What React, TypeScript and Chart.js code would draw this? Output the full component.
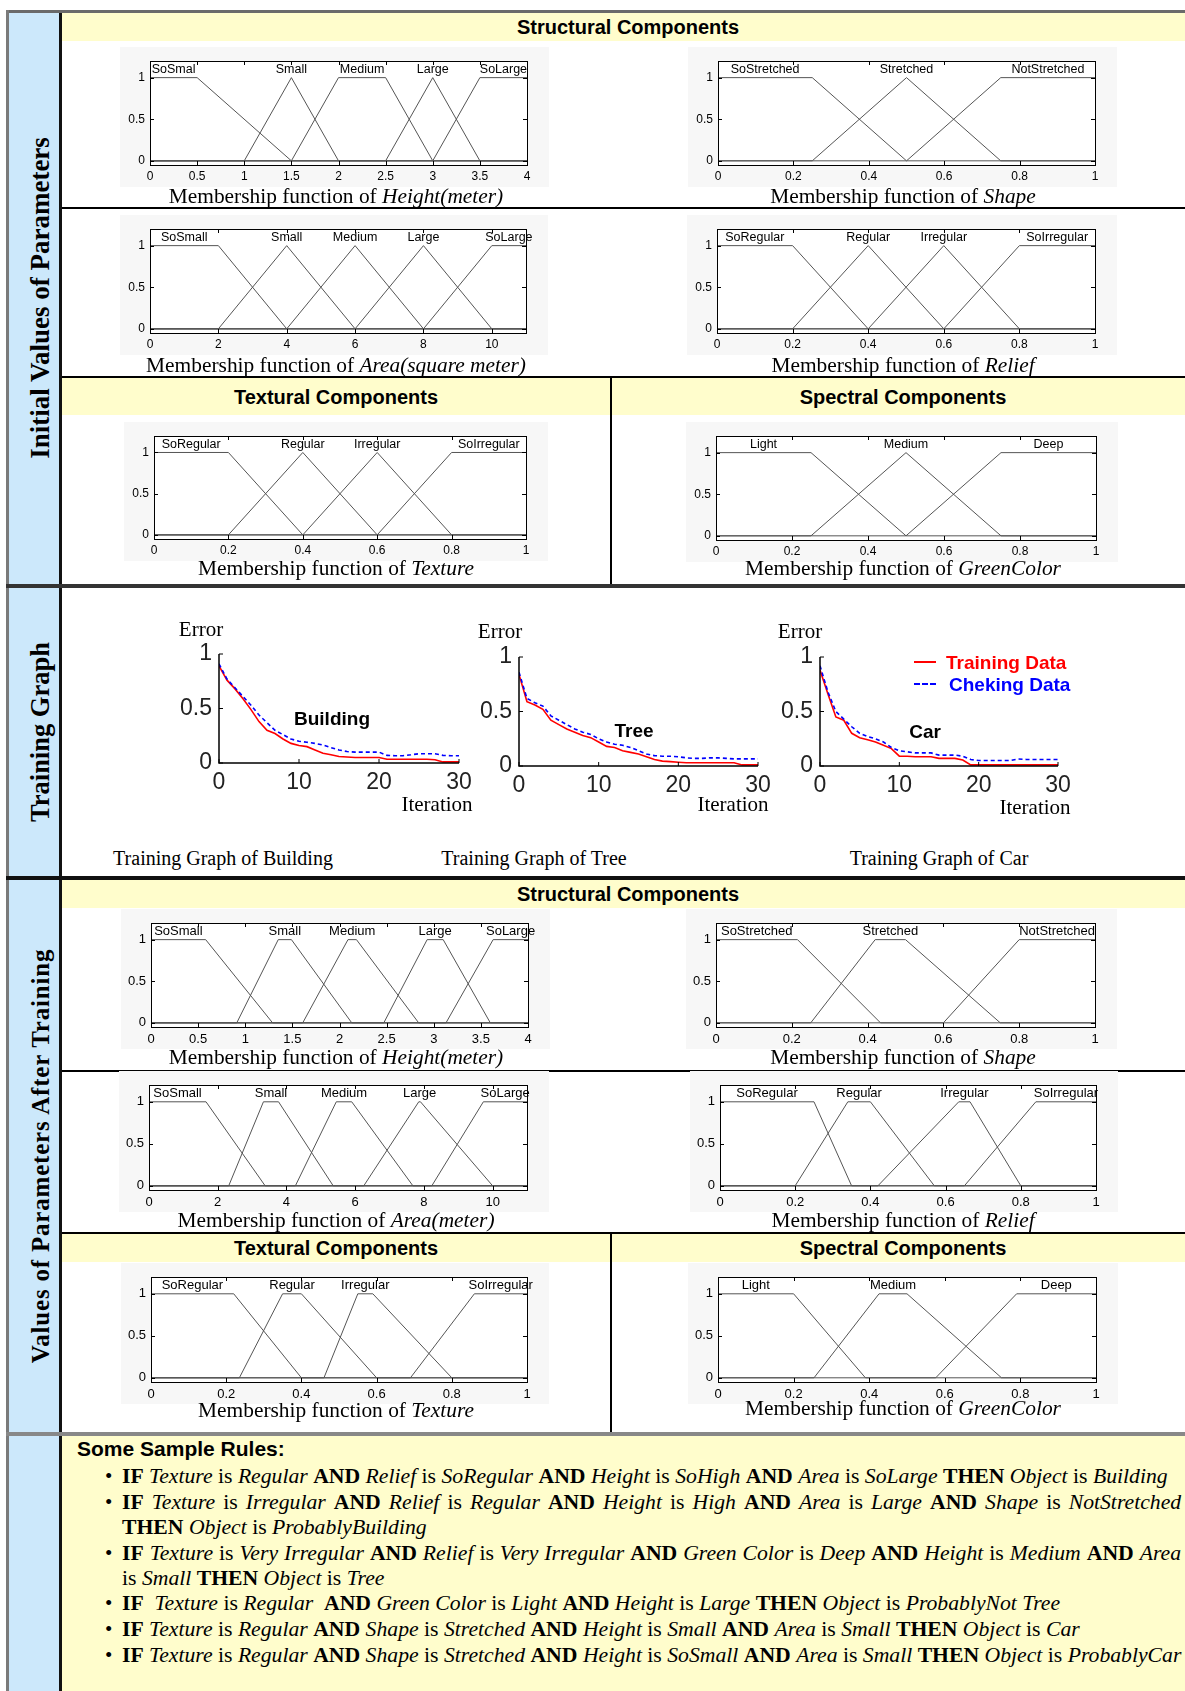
import React, { useEffect, useRef } from 'react';
import { Chart, registerables } from 'chart.js';
Chart.register(...registerables);

// ================= DATA =================
const mfYTicks = [0, 0.5, 1];
const heightTicks = [0, 0.5, 1, 1.5, 2, 2.5, 3, 3.5, 4];
const areaTicks = [0, 2, 4, 6, 8, 10];
const unitTicks = [0, 0.2, 0.4, 0.6, 0.8, 1];

// membership functions [a, b, c, d] (trapezoid corners)
const heightLabelsInit = ['SoSmal', 'Small', 'Medium', 'Large', 'SoLarge'];
const heightMfInit = [[0, 0, 0.5, 1.5], [1, 1.5, 1.5, 2], [1.5, 2, 2.5, 3], [2.5, 3, 3, 3.5], [3, 3.5, 4, 4]];
const shapeLabels = ['SoStretched', 'Stretched', 'NotStretched'];
const shapeMfInit = [[0, 0, 0.25, 0.5], [0.25, 0.5, 0.5, 0.75], [0.5, 0.75, 1, 1]];
const areaLabels = ['SoSmall', 'Small', 'Medium', 'Large', 'SoLarge'];
const areaMfInit = [[0, 0, 2, 4], [2, 4, 4, 6], [4, 6, 6, 8], [6, 8, 8, 10], [8, 10, 11, 11]];
const regularLabels = ['SoRegular', 'Regular', 'Irregular', 'SoIrregular'];
const reliefMfInit = [[0, 0, 0.2, 0.4], [0.2, 0.4, 0.4, 0.6], [0.4, 0.6, 0.6, 0.8], [0.6, 0.8, 1, 1]];
const textureMfInit = [[0, 0, 0.2, 0.4], [0.2, 0.4, 0.4, 0.6], [0.4, 0.6, 0.6, 0.8], [0.6, 0.8, 1, 1]];
const greenLabels = ['Light', 'Medium', 'Deep'];
const greenMfInit = [[0, 0, 0.25, 0.5], [0.25, 0.5, 0.5, 0.75], [0.5, 0.75, 1, 1]];

const heightLabelsTrained = ['SoSmall', 'Small', 'Medium', 'Large', 'SoLarge'];
const heightMfTrained = [[0, 0, 0.58, 1.29], [0.91, 1.35, 1.49, 2.13], [1.61, 2.09, 2.18, 2.84], [2.47, 2.93, 3.1, 3.6], [3.13, 3.63, 4, 4]];
const shapeMfTrained = [[0, 0, 0.215, 0.434], [0.25, 0.42, 0.5, 0.75], [0.6, 0.8, 1, 1]];
const areaMfTrained = [[0, 0, 1.66, 3.38], [2.32, 3.33, 3.77, 5.36], [4.26, 5.45, 5.9, 7.68], [6.25, 7.85, 7.9, 10], [8.23, 9.73, 11, 11]];
const reliefMfTrained = [[0, 0, 0.25, 0.35], [0.2, 0.34, 0.4, 0.57], [0.42, 0.635, 0.665, 0.8], [0.65, 0.84, 1, 1]];
const textureMfTrained = [[0, 0, 0.22, 0.4], [0.235, 0.35, 0.4, 0.6], [0.46, 0.55, 0.59, 0.8], [0.69, 0.86, 1, 1]];
const greenMfTrained = [[0, 0, 0.2, 0.39], [0.254, 0.426, 0.5, 0.75], [0.576, 0.79, 1, 1]];

// training curves
const iterations = [0, 1, 2, 3, 4, 5, 6, 7, 8, 9, 10, 11, 12, 13, 14, 15, 16, 17, 18, 19, 20, 21, 22, 23, 24, 25, 26, 27, 28, 29, 30];
const iterTicks = [0, 10, 20, 30];
const errorTicks = [0, 0.5, 1];
const buildingTrain = [0.89, 0.76, 0.68, 0.59, 0.49, 0.38, 0.30, 0.27, 0.22, 0.18, 0.16, 0.15, 0.12, 0.09, 0.075, 0.06, 0.055, 0.05, 0.05, 0.05, 0.05, 0.035, 0.035, 0.035, 0.035, 0.035, 0.035, 0.03, 0.01, 0.01, 0.01];
const buildingCheck = [0.91, 0.77, 0.69, 0.61, 0.53, 0.44, 0.37, 0.30, 0.26, 0.22, 0.20, 0.19, 0.18, 0.165, 0.14, 0.12, 0.105, 0.10, 0.10, 0.10, 0.10, 0.07, 0.067, 0.067, 0.075, 0.085, 0.085, 0.085, 0.07, 0.067, 0.067];
const treeTrain = [0.84, 0.59, 0.56, 0.52, 0.42, 0.38, 0.34, 0.31, 0.28, 0.26, 0.22, 0.18, 0.17, 0.14, 0.125, 0.11, 0.085, 0.06, 0.045, 0.04, 0.035, 0.03, 0.03, 0.03, 0.03, 0.03, 0.03, 0.03, 0.01, 0.01, 0.01];
const treeCheck = [0.86, 0.62, 0.58, 0.55, 0.46, 0.42, 0.38, 0.34, 0.31, 0.29, 0.25, 0.22, 0.20, 0.19, 0.17, 0.14, 0.11, 0.095, 0.09, 0.09, 0.085, 0.075, 0.07, 0.07, 0.075, 0.075, 0.07, 0.065, 0.065, 0.065, 0.065];
const carTrain = [0.88, 0.66, 0.45, 0.42, 0.30, 0.26, 0.24, 0.22, 0.19, 0.16, 0.09, 0.09, 0.085, 0.085, 0.085, 0.07, 0.07, 0.07, 0.055, 0.01, 0.01, 0.01, 0.01, 0.01, 0.01, 0.01, 0.01, 0.01, 0.01, 0.01, 0.01];
const carCheck = [0.92, 0.68, 0.50, 0.43, 0.36, 0.30, 0.27, 0.25, 0.22, 0.17, 0.14, 0.13, 0.12, 0.12, 0.12, 0.10, 0.10, 0.10, 0.09, 0.06, 0.05, 0.05, 0.05, 0.05, 0.05, 0.065, 0.06, 0.06, 0.06, 0.06, 0.06];

// ================= STYLE =================
const SERIF = '"Liberation Serif", "Times New Roman", serif';
const SANS = '"Liberation Sans", Arial, sans-serif';
const YELLOW = '#fffdcc';
const BLUE = '#cce8fb';

function mfPoints(prm: number[], xMin: number, xMax: number) {
  const [a, b, c, d] = prm;
  const pts: { x: number; y: number }[] = [];
  if (a > xMin) pts.push({ x: xMin, y: 0 });
  if (a < b) pts.push({ x: a, y: 0 });
  pts.push({ x: b, y: 1 });
  if (c > b) pts.push({ x: c, y: 1 });
  if (d > c) pts.push({ x: d, y: 0 });
  if (d < xMax) pts.push({ x: xMax, y: 0 });
  return pts;
}

type MfProps = {
  xMin: number; xMax: number; xTicks: number[]; params: number[][]; labels: string[];
  left: number; top: number; width: number; height: number; tickFont: number; labelFont: number;
};

function MfChart(p: MfProps) {
  const ref = useRef<HTMLCanvasElement>(null);
  const ML = 30, MR = 22, MT = 14, MB = 22;
  const cw = p.width + ML + MR, ch = p.height + MT + MB;
  useEffect(() => {
    const datasets = p.params.map((prm) => ({
      data: mfPoints(prm, p.xMin, p.xMax), showLine: true, borderColor: '#555', borderWidth: 1,
      pointRadius: 0, fill: false, tension: 0,
    }));
    const decor = {
      id: 'mfDecor',
      beforeDraw(chart: any) {
        const { ctx, chartArea: a } = chart;
        ctx.save(); ctx.fillStyle = '#fff';
        ctx.fillRect(a.left, a.top, a.right - a.left, a.bottom - a.top); ctx.restore();
      },
      afterDatasetsDraw(chart: any) {
        const { ctx, chartArea: a, scales } = chart;
        const xs = scales.x, ys = scales.y;
        ctx.save();
        ctx.strokeStyle = '#000'; ctx.lineWidth = 1;
        ctx.strokeRect(Math.round(a.left) + 0.5, Math.round(a.top) + 0.5, Math.round(a.right - a.left), Math.round(a.bottom - a.top));
        ctx.beginPath();
        p.xTicks.forEach((v) => {
          const x = Math.round(xs.getPixelForValue(v)) + 0.5;
          ctx.moveTo(x, a.bottom); ctx.lineTo(x, a.bottom - 4);
          ctx.moveTo(x, a.top); ctx.lineTo(x, a.top + 4);
        });
        mfYTicks.forEach((v) => {
          const y = Math.round(ys.getPixelForValue(v)) + 0.5;
          ctx.moveTo(a.left, y); ctx.lineTo(a.left + 4, y);
          ctx.moveTo(a.right, y); ctx.lineTo(a.right - 4, y);
        });
        ctx.stroke();
        ctx.fillStyle = '#000';
        // tick labels
        ctx.font = `${p.tickFont}px ${SANS}`;
        ctx.textAlign = 'center'; ctx.textBaseline = 'middle';
        p.xTicks.forEach((v) => ctx.fillText(String(v), xs.getPixelForValue(v), a.bottom + 12));
        ctx.textAlign = 'right';
        mfYTicks.forEach((v) => ctx.fillText(String(v), a.left - 5, ys.getPixelForValue(v)));
        // MF names
        ctx.font = `${p.labelFont}px ${SANS}`;
        ctx.textAlign = 'center';
        p.params.forEach((prm, i) => {
          ctx.fillText(p.labels[i], xs.getPixelForValue((prm[1] + prm[2]) / 2), ys.getPixelForValue(1.1));
        });
        ctx.restore();
      },
    };
    const chart = new Chart(ref.current as HTMLCanvasElement, {
      type: 'scatter',
      data: { datasets } as any,
      options: {
        animation: false, responsive: false, maintainAspectRatio: false, devicePixelRatio: 1,
        layout: { padding: { left: 0, right: MR, top: MT, bottom: 0 } },
        plugins: { legend: { display: false }, tooltip: { enabled: false } },
        scales: {
          x: {
            type: 'linear', min: p.xMin, max: p.xMax,
            afterBuildTicks: (s: any) => { s.ticks = p.xTicks.map((v) => ({ value: v })); },
            afterFit: (s: any) => { s.height = MB; },
            ticks: { display: false },
            grid: { display: false }, border: { display: false },
          },
          y: {
            type: 'linear', min: -0.05, max: 1.2,
            afterBuildTicks: (s: any) => { s.ticks = mfYTicks.map((v) => ({ value: v })); },
            afterFit: (s: any) => { s.width = ML; },
            ticks: { display: false },
            grid: { display: false }, border: { display: false },
          },
        },
      } as any,
      plugins: [decor],
    });
    return () => chart.destroy();
  }, []);
  return (
    <canvas ref={ref} width={cw} height={ch}
      style={{ position: 'absolute', left: p.left - ML, top: p.top - MT, width: cw, height: ch, background: '#f7f7f7' }} />
  );
}

type TrProps = { left: number; top: number; width: number; height: number; train: number[]; check: number[] };

function TrainChart(p: TrProps) {
  const ref = useRef<HTMLCanvasElement>(null);
  const ML = 60, MR = 24, MT = 16, MB = 40;
  const cw = p.width + ML + MR, ch = p.height + MT + MB;
  useEffect(() => {
    const decor = {
      id: 'trDecor',
      afterDatasetsDraw(chart: any) {
        const { ctx, chartArea: a, scales } = chart;
        ctx.save();
        ctx.strokeStyle = '#000'; ctx.lineWidth = 1.5;
        ctx.beginPath();
        ctx.moveTo(a.left, a.top); ctx.lineTo(a.left, a.bottom); ctx.lineTo(a.right, a.bottom);
        ctx.stroke();
        ctx.lineWidth = 1; ctx.beginPath();
        iterTicks.forEach((v) => { const x = scales.x.getPixelForValue(v); ctx.moveTo(x, a.bottom); ctx.lineTo(x, a.bottom - 4); });
        errorTicks.forEach((v) => { const y = scales.y.getPixelForValue(v); ctx.moveTo(a.left, y); ctx.lineTo(a.left + 4, y); });
        ctx.stroke();
        ctx.fillStyle = '#222';
        ctx.font = `23px ${SANS}`;
        ctx.textAlign = 'center'; ctx.textBaseline = 'middle';
        iterTicks.forEach((v) => ctx.fillText(String(v), scales.x.getPixelForValue(v), a.bottom + 20));
        ctx.textAlign = 'right';
        errorTicks.forEach((v) => ctx.fillText(String(v), a.left - 7, scales.y.getPixelForValue(v)));
        ctx.restore();
      },
    };
    const chart = new Chart(ref.current as HTMLCanvasElement, {
      type: 'scatter',
      data: {
        datasets: [
          { data: iterations.map((it, i) => ({ x: it, y: p.check[i] })), showLine: true, borderColor: '#0000ff', borderWidth: 1.6, borderDash: [4, 3], pointRadius: 0, tension: 0 },
          { data: iterations.map((it, i) => ({ x: it, y: p.train[i] })), showLine: true, borderColor: '#ff0000', borderWidth: 1.6, pointRadius: 0, tension: 0 },
        ],
      } as any,
      options: {
        animation: false, responsive: false, maintainAspectRatio: false, devicePixelRatio: 1,
        layout: { padding: { left: 0, right: MR, top: MT, bottom: 0 } },
        plugins: { legend: { display: false }, tooltip: { enabled: false } },
        scales: {
          x: {
            type: 'linear', min: 0, max: 30,
            afterBuildTicks: (s: any) => { s.ticks = iterTicks.map((v) => ({ value: v })); },
            afterFit: (s: any) => { s.height = MB; },
            ticks: { display: false },
            grid: { display: false }, border: { display: false },
          },
          y: {
            type: 'linear', min: 0, max: 1,
            afterBuildTicks: (s: any) => { s.ticks = errorTicks.map((v) => ({ value: v })); },
            afterFit: (s: any) => { s.width = ML; },
            ticks: { display: false },
            grid: { display: false }, border: { display: false },
          },
        },
      } as any,
      plugins: [decor],
    });
    return () => chart.destroy();
  }, []);
  return (
    <canvas ref={ref} width={cw} height={ch}
      style={{ position: 'absolute', left: p.left - ML, top: p.top - MT, width: cw, height: ch }} />
  );
}

// ================= LAYOUT HELPERS =================
const Rect = ({ l, t, w, h, bg }: any) => (
  <div style={{ position: 'absolute', left: l, top: t, width: w, height: h, background: bg }} />
);

const T = ({ x, y, children, style }: any) => (
  <div style={{ position: 'absolute', left: x, top: y, transform: 'translate(-50%,-50%)', whiteSpace: 'nowrap', lineHeight: 1, ...style }}>
    {children}
  </div>
);

const Title = ({ x, y, name }: any) => (
  <T x={x} y={y} style={{ fontFamily: SERIF, fontSize: 21.4 }}>
    Membership function of <i>{name}</i>
  </T>
);

const Header = ({ l, t, w, h, text, cx }: any) => (
  <>
    <Rect l={l} t={t} w={w} h={h} bg={YELLOW} />
    <T x={cx} y={t + h / 2} style={{ fontFamily: SANS, fontWeight: 'bold', fontSize: 20 }}>{text}</T>
  </>
);

const Side = ({ y, text, size, ls }: any) => (
  <div style={{ position: 'absolute', left: 40, top: y, transform: 'translate(-50%,-50%) rotate(-90deg)', whiteSpace: 'nowrap', lineHeight: 1, fontFamily: SERIF, fontWeight: 'bold', fontSize: size, letterSpacing: ls || 0 }}>
    {text}
  </div>
);

const RuleLine = ({ y, bullet, justify, children }: any) => (
  <>
    {bullet && <div style={{ position: 'absolute', left: 105, top: y - 13, lineHeight: '26px', fontSize: 21, fontFamily: SERIF }}>•</div>}
    <div style={{
      position: 'absolute', left: 122, top: y - 13, lineHeight: '26px', fontSize: 21.7, fontFamily: SERIF,
      width: justify ? 1059 : undefined, whiteSpace: justify ? 'normal' : 'nowrap',
      textAlign: justify ? 'justify' : 'left', textAlignLast: justify ? 'justify' : 'auto', color: '#000',
    } as any}>{children}</div>
  </>
);

export default function App() {
  return (
    <div style={{ position: 'absolute', left: 0, top: 0, width: 1185, height: 1691, overflow: 'hidden', background: '#fff', fontFamily: SERIF, color: '#000' }}>
      {/* frame */}
      <Rect l={6} t={10} w={1179} h={3} bg="#6a6a6a" />
      <Rect l={6} t={10} w={3} h={1681} bg="#7a7a7a" />
      <Rect l={9} t={13} w={50} h={1678} bg={BLUE} />
      <Rect l={59} t={13} w={3} h={1678} bg="#111" />

      {/* ===== Section 1: initial values ===== */}
      <Header l={62} t={13} w={1123} h={28} text="Structural Components" cx={628} />
      <Rect l={62} t={207} w={1123} h={2} bg="#000" />
      <Rect l={62} t={376} w={1123} h={2} bg="#000" />
      <Header l={62} t={378} w={548} h={37} text="Textural Components" cx={336} />
      <Header l={612} t={378} w={573} h={37} text="Spectral Components" cx={903} />
      <Rect l={610} t={378} w={2} h={207} bg="#000" />

      <MfChart xMin={0} xMax={4} xTicks={heightTicks} params={heightMfInit} labels={heightLabelsInit} left={150} top={61} width={377} height={104} tickFont={12} labelFont={12.5} />
      <MfChart xMin={0} xMax={1} xTicks={unitTicks} params={shapeMfInit} labels={shapeLabels} left={718} top={61} width={377} height={104} tickFont={12} labelFont={12.5} />
      <MfChart xMin={0} xMax={11} xTicks={areaTicks} params={areaMfInit} labels={areaLabels} left={150} top={229} width={376} height={104} tickFont={12} labelFont={12.5} />
      <MfChart xMin={0} xMax={1} xTicks={unitTicks} params={reliefMfInit} labels={regularLabels} left={717} top={229} width={378} height={104} tickFont={12} labelFont={12.5} />
      <MfChart xMin={0} xMax={1} xTicks={unitTicks} params={textureMfInit} labels={regularLabels} left={154} top={436} width={372} height={103} tickFont={12} labelFont={12.5} />
      <MfChart xMin={0} xMax={1} xTicks={unitTicks} params={greenMfInit} labels={greenLabels} left={716} top={436} width={380} height={104} tickFont={12} labelFont={12.5} />

      <Title x={336} y={197} name="Height(meter)" />
      <Title x={903} y={197} name="Shape" />
      <Title x={336} y={366} name="Area(square meter)" />
      <Title x={903} y={366} name="Relief" />
      <Title x={336} y={569} name="Texture" />
      <Title x={903} y={569} name="GreenColor" />

      <Side y={298} text="Initial Values of Parameters" size={27} />

      <Rect l={6} t={584} w={1179} h={4} bg="#333" />

      {/* ===== Section 2: training graph ===== */}
      <Side y={732} text="Training Graph" size={26.5} />
      <TrainChart left={219} top={654} width={240} height={109} train={buildingTrain} check={buildingCheck} />
      <TrainChart left={519} top={657} width={239} height={109} train={treeTrain} check={treeCheck} />
      <TrainChart left={820} top={657} width={238} height={109} train={carTrain} check={carCheck} />

      <T x={201} y={629} style={{ fontFamily: SERIF, fontSize: 21 }}>Error</T>
      <T x={500} y={631} style={{ fontFamily: SERIF, fontSize: 21 }}>Error</T>
      <T x={800} y={631} style={{ fontFamily: SERIF, fontSize: 21 }}>Error</T>
      <T x={437} y={804} style={{ fontFamily: SERIF, fontSize: 21 }}>Iteration</T>
      <T x={733} y={804} style={{ fontFamily: SERIF, fontSize: 21 }}>Iteration</T>
      <T x={1035} y={807} style={{ fontFamily: SERIF, fontSize: 21 }}>Iteration</T>
      <T x={332} y={718} style={{ fontFamily: SANS, fontSize: 19, fontWeight: 'bold' }}>Building</T>
      <T x={634} y={730} style={{ fontFamily: SANS, fontSize: 19, fontWeight: 'bold' }}>Tree</T>
      <T x={925} y={731} style={{ fontFamily: SANS, fontSize: 19, fontWeight: 'bold' }}>Car</T>

      {/* legend */}
      <div style={{ position: 'absolute', left: 914, top: 661, width: 22, borderTop: '2px solid #ff0000' }} />
      <div style={{ position: 'absolute', left: 946, top: 662, transform: 'translateY(-50%)', lineHeight: 1, fontFamily: SANS, fontWeight: 'bold', fontSize: 19, color: '#ff0000', whiteSpace: 'nowrap' }}>Training Data</div>
      <div style={{ position: 'absolute', left: 914, top: 683, width: 22, borderTop: '2px dashed #0000ff' }} />
      <div style={{ position: 'absolute', left: 949, top: 684, transform: 'translateY(-50%)', lineHeight: 1, fontFamily: SANS, fontWeight: 'bold', fontSize: 19, color: '#0000ff', whiteSpace: 'nowrap' }}>Cheking Data</div>

      <T x={223} y={858} style={{ fontFamily: SERIF, fontSize: 20 }}>Training Graph of Building</T>
      <T x={534} y={858} style={{ fontFamily: SERIF, fontSize: 20 }}>Training Graph of Tree</T>
      <T x={939} y={858} style={{ fontFamily: SERIF, fontSize: 20 }}>Training Graph of Car</T>

      <Rect l={6} t={876} w={1179} h={4} bg="#111" />

      {/* ===== Section 3: after training ===== */}
      <Header l={62} t={880} w={1123} h={28} text="Structural Components" cx={628} />
      <Rect l={62} t={1070} w={1123} h={2} bg="#000" />
      <Rect l={62} t={1232} w={1123} h={2} bg="#000" />
      <Header l={62} t={1234} w={548} h={28} text="Textural Components" cx={336} />
      <Header l={612} t={1234} w={573} h={28} text="Spectral Components" cx={903} />
      <Rect l={610} t={1234} w={2} h={198} bg="#000" />

      <MfChart xMin={0} xMax={4} xTicks={heightTicks} params={heightMfTrained} labels={heightLabelsTrained} left={151} top={923} width={377} height={104} tickFont={13} labelFont={13} />
      <MfChart xMin={0} xMax={1} xTicks={unitTicks} params={shapeMfTrained} labels={shapeLabels} left={716} top={923} width={379} height={104} tickFont={13} labelFont={13} />
      <MfChart xMin={0} xMax={11} xTicks={areaTicks} params={areaMfTrained} labels={areaLabels} left={149} top={1085} width={378} height={105} tickFont={13} labelFont={13} />
      <MfChart xMin={0} xMax={1} xTicks={unitTicks} params={reliefMfTrained} labels={regularLabels} left={720} top={1085} width={376} height={105} tickFont={13} labelFont={13} />
      <MfChart xMin={0} xMax={1} xTicks={unitTicks} params={textureMfTrained} labels={regularLabels} left={151} top={1277} width={376} height={105} tickFont={13} labelFont={13} />
      <MfChart xMin={0} xMax={1} xTicks={unitTicks} params={greenMfTrained} labels={greenLabels} left={718} top={1277} width={378} height={105} tickFont={13} labelFont={13} />

      <Title x={336} y={1058} name="Height(meter)" />
      <Title x={903} y={1058} name="Shape" />
      <Title x={336} y={1221} name="Area(meter)" />
      <Title x={903} y={1221} name="Relief" />
      <Title x={336} y={1411} name="Texture" />
      <Title x={903} y={1409} name="GreenColor" />

      <Side y={1156} text="Values of Parameters After Training" size={25} ls={0.8} />

      <Rect l={6} t={1432} w={1179} h={4} bg="#888" />

      {/* ===== Section 4: rules ===== */}
      <Rect l={62} t={1436} w={1123} h={255} bg={YELLOW} />
      <div style={{ position: 'absolute', left: 77, top: 1448, transform: 'translateY(-50%)', lineHeight: 1, fontFamily: SANS, fontWeight: 'bold', fontSize: 21, whiteSpace: 'nowrap' }}>Some Sample Rules:</div>

      <RuleLine y={1476} bullet>
        <b>IF</b> <i>Texture</i> is <i>Regular</i> <b>AND</b> <i>Relief</i> is <i>SoRegular</i> <b>AND</b> <i>Height</i> is <i>SoHigh</i> <b>AND</b> <i>Area</i> is <i>SoLarge</i> <b>THEN</b> <i>Object</i> is <i>Building</i>
      </RuleLine>
      <RuleLine y={1502} bullet justify>
        <b>IF</b> <i>Texture</i> is <i>Irregular</i> <b>AND</b> <i>Relief</i> is <i>Regular</i> <b>AND</b> <i>Height</i> is <i>High</i> <b>AND</b> <i>Area</i> is <i>Large</i> <b>AND</b> <i>Shape</i> is <i>NotStretched</i>
      </RuleLine>
      <RuleLine y={1527}>
        <b>THEN</b> <i>Object</i> is <i>ProbablyBuilding</i>
      </RuleLine>
      <RuleLine y={1553} bullet justify>
        <b>IF</b> <i>Texture</i> is <i>Very Irregular</i> <b>AND</b> <i>Relief</i> is <i>Very Irregular</i> <b>AND</b> <i>Green Color</i> is <i>Deep</i> <b>AND</b> <i>Height</i> is <i>Medium</i> <b>AND</b> <i>Area</i>
      </RuleLine>
      <RuleLine y={1578}>
        is <i>Small</i> <b>THEN</b> <i>Object</i> is <i>Tree</i>
      </RuleLine>
      <RuleLine y={1603} bullet>
        <b>IF</b>&nbsp; <i>Texture</i> is <i>Regular</i>&nbsp; <b>AND</b> <i>Green Color</i> is <i>Light</i> <b>AND</b> <i>Height</i> is <i>Large</i> <b>THEN</b> <i>Object</i> is <i>ProbablyNot Tree</i>
      </RuleLine>
      <RuleLine y={1629} bullet>
        <b>IF</b> <i>Texture</i> is <i>Regular</i> <b>AND</b> <i>Shape</i> is <i>Stretched</i> <b>AND</b> <i>Height</i> is <i>Small</i> <b>AND</b> <i>Area</i> is <i>Small</i> <b>THEN</b> <i>Object</i> is <i>Car</i>
      </RuleLine>
      <RuleLine y={1655} bullet>
        <b>IF</b> <i>Texture</i> is <i>Regular</i> <b>AND</b> <i>Shape</i> is <i>Stretched</i> <b>AND</b> <i>Height</i> is <i>SoSmall</i> <b>AND</b> <i>Area</i> is <i>Small</i> <b>THEN</b> <i>Object</i> is <i>ProbablyCar</i>
      </RuleLine>
    </div>
  );
}
